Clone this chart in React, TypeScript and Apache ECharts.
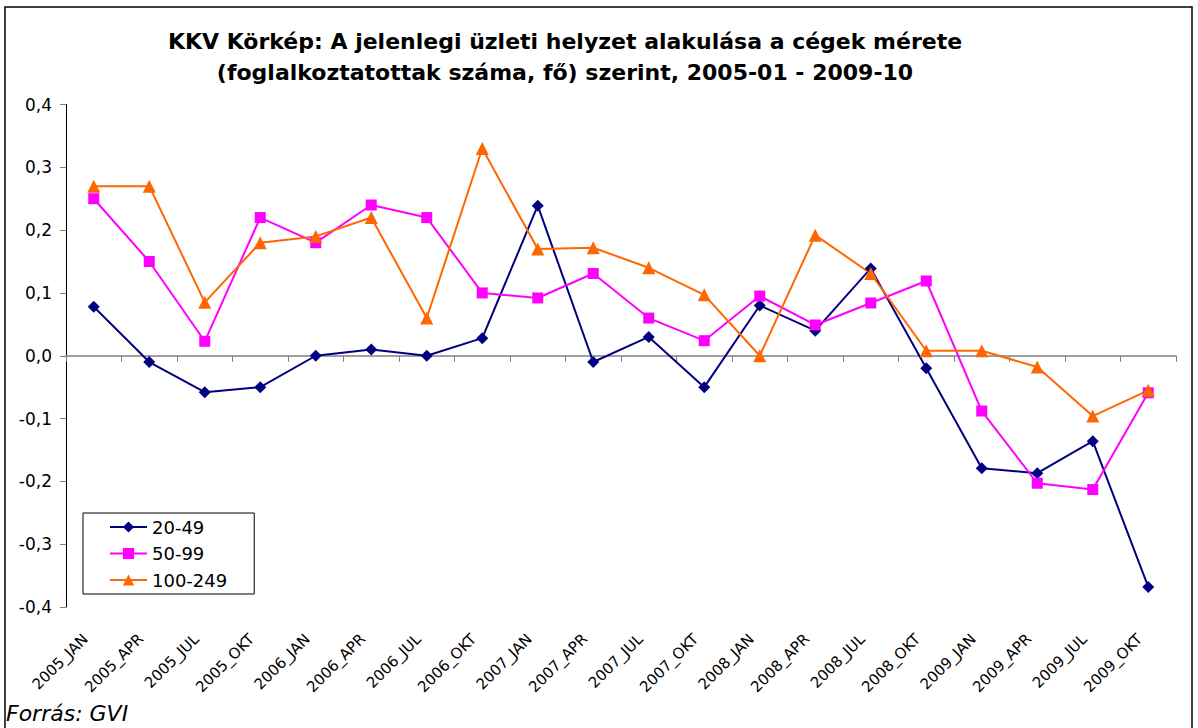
import React, { useEffect, useRef } from "react";
import * as echarts from "echarts";

const categories = [
  "2005_JAN", "2005_APR", "2005_JUL", "2005_OKT",
  "2006_JAN", "2006_APR", "2006_JUL", "2006_OKT",
  "2007_JAN", "2007_APR", "2007_JUL", "2007_OKT",
  "2008_JAN", "2008_APR", "2008_JUL", "2008_OKT",
  "2009_JAN", "2009_APR", "2009_JUL", "2009_OKT",
];

const s20_49 = [0.078, -0.01, -0.058, -0.05, 0.0, 0.01, 0.0, 0.028, 0.239, -0.01, 0.03, -0.05, 0.08, 0.04, 0.139, -0.02, -0.179, -0.187, -0.136, -0.368];
const s50_99 = [0.25, 0.15, 0.023, 0.22, 0.18, 0.24, 0.22, 0.1, 0.092, 0.131, 0.06, 0.024, 0.095, 0.049, 0.084, 0.119, -0.088, -0.203, -0.213, -0.059];
const s100_249 = [0.27, 0.27, 0.085, 0.18, 0.19, 0.22, 0.06, 0.33, 0.17, 0.172, 0.14, 0.097, 0.0, 0.192, 0.131, 0.008, 0.008, -0.018, -0.096, -0.055];

const seriesNames = ["20-49", "50-99", "100-249"];
const titleLines = [
  "KKV Körkép: A jelenlegi üzleti helyzet alakulása a cégek mérete",
  "(foglalkoztatottak száma, fő) szerint, 2005-01 - 2009-10",
];
const sourceText = "Forrás: GVI";

const FONT = "'DejaVu Sans', 'Liberation Sans', Arial, sans-serif";

export default function App() {
  const ref = useRef<HTMLDivElement>(null);
  useEffect(() => {
    document.body.style.margin = "0";
    const chart = echarts.init(ref.current!, null, { renderer: "svg" });
    chart.setOption({
      animation: false,
      backgroundColor: "#ffffff",
      textStyle: { fontFamily: FONT },
      title: {
        text: titleLines.join("\n"),
        left: 560,
        textAlign: "center",
        top: 21,
        textStyle: {
          fontFamily: FONT,
          fontSize: 22,
          fontWeight: "bold",
          color: "#000",
          lineHeight: 31,
        },
      },
      legend: {
        orient: "vertical",
        left: 83,
        top: 513,
        data: seriesNames,
        backgroundColor: "#fff",
        borderColor: "#000",
        borderWidth: 1,
        padding: [5, 27, 5, 26],
        itemWidth: 37,
        itemHeight: 14,
        itemGap: 8.5,
        textStyle: { fontFamily: FONT, fontSize: 18, lineHeight: 18, color: "#000" },
      },
      grid: { left: 66, right: 22, top: 104.5, bottom: 121, containLabel: false },
      xAxis: {
        type: "category",
        data: categories,
        boundaryGap: true,
        axisLine: { lineStyle: { color: "#808080", width: 1.5 } },
        axisTick: { show: true, length: 6, lineStyle: { color: "#808080" } },
        axisLabel: {
          rotate: 45,
          interval: 0,
          fontFamily: FONT,
          fontSize: 15,
          color: "#000",
          margin: 21,
          padding: [0, 12, 0, 0],
        },
        splitLine: { show: false },
      },
      yAxis: {
        type: "value",
        min: -0.4,
        max: 0.4,
        interval: 0.1,
        axisLine: { show: true, lineStyle: { color: "#000", width: 1 } },
        axisTick: { show: true, inside: false, length: 6, lineStyle: { color: "#808080" } },
        axisLabel: {
          fontFamily: FONT,
          fontSize: 17,
          color: "#000",
          margin: 14,
          formatter: (v: number) => v.toFixed(1).replace(".", ","),
        },
        splitLine: { show: false },
      },
      graphic: [
        {
          type: "rect",
          shape: { x: 5, y: 7, width: 1187, height: 740 },
          style: { fill: "none", stroke: "#000", lineWidth: 1.5 },
          silent: true,
        },
        {
          type: "text",
          left: 6,
          top: 702,
          style: {
            text: sourceText,
            fontFamily: FONT,
            fontSize: 22,
            fontStyle: "italic",
            fill: "#000",
          },
        },
      ],
      series: [
        {
          name: seriesNames[0],
          type: "line",
          data: s20_49,
          symbol: "diamond",
          symbolSize: 12,
          lineStyle: { color: "#000080", width: 2 },
          itemStyle: { color: "#000080" },
        },
        {
          name: seriesNames[1],
          type: "line",
          data: s50_99,
          symbol: "rect",
          symbolSize: 11,
          lineStyle: { color: "#ff00ff", width: 2 },
          itemStyle: { color: "#ff00ff" },
        },
        {
          name: seriesNames[2],
          type: "line",
          data: s100_249,
          symbol: "triangle",
          symbolSize: 13,
          lineStyle: { color: "#ff6600", width: 2 },
          itemStyle: { color: "#ff6600" },
        },
      ],
    });
    return () => chart.dispose();
  }, []);
  return <div ref={ref} style={{ width: 1198, height: 728 }} />;
}
